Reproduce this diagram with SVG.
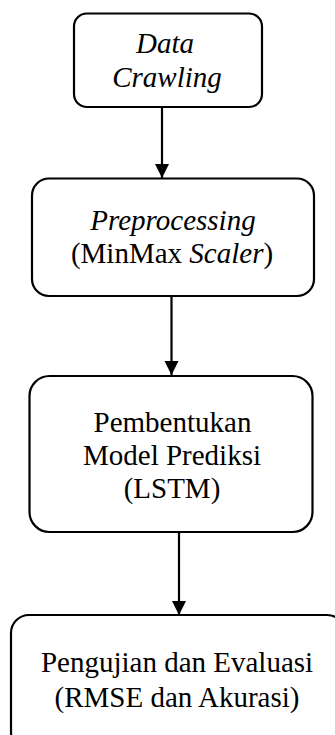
<svg xmlns="http://www.w3.org/2000/svg" width="335" height="735" viewBox="0 0 335 735">
<defs>
<style>
.box{fill:#fff;stroke:#000;stroke-width:2.2}
.t{font-family:'Liberation Serif','Times New Roman',serif;font-size:29px;fill:#000;text-anchor:middle}
.i{font-style:italic}
.c{stroke:#000;stroke-width:2.2;fill:none}
</style>
<marker id="ah" markerUnits="userSpaceOnUse" markerWidth="16" markerHeight="16" refX="14" refY="7" orient="auto">
<path d="M0,0 L14,7 L0,14 Z" fill="#000"/>
</marker>
</defs>
<rect width="335" height="735" fill="#fff"/>
<g id="connectors">
<line class="c" x1="162" y1="107" x2="162" y2="178" marker-end="url(#ah)"/>
<line class="c" x1="171.5" y1="296" x2="171.5" y2="375" marker-end="url(#ah)"/>
<line class="c" x1="179" y1="532" x2="179" y2="615" marker-end="url(#ah)"/>
</g>
<g id="n1">
<rect class="box" x="74" y="13.5" width="188" height="93.5" rx="13"/>
<text class="t i" x="165" y="53">Data</text>
<text class="t i" x="167" y="87">Crawling</text>
</g>
<g id="n2">
<rect class="box" x="32" y="178.5" width="282" height="117.5" rx="17"/>
<text class="t i" x="173" y="230">Preprocessing</text>
<text class="t" x="172" y="263">(MinMax <tspan class="i">Scaler</tspan>)</text>
</g>
<g id="n3">
<rect class="box" x="29.5" y="376" width="283" height="156" rx="20"/>
<text class="t" x="172.5" y="432">Pembentukan</text>
<text class="t" x="172" y="465">Model Prediksi</text>
<text class="t" x="172" y="498">(LSTM)</text>
</g>
<g id="n4">
<rect class="box" x="11" y="615" width="334" height="135" rx="18"/>
<text class="t" x="177" y="672">Pengujian dan Evaluasi</text>
<text class="t" x="177" y="707">(RMSE dan Akurasi)</text>
</g>
</svg>
